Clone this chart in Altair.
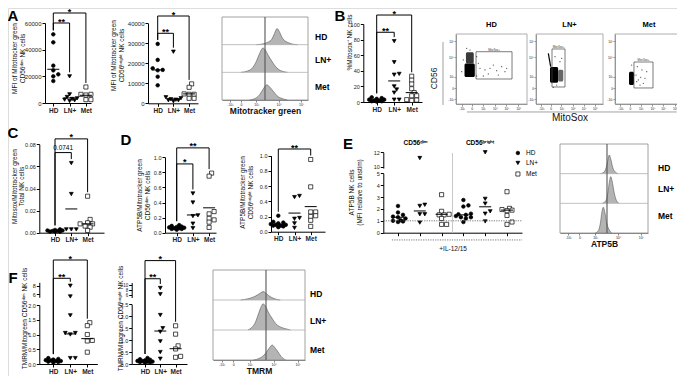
import altair as alt
import pandas as pd

M = 8
W, H = 669, 368
FONT = "Liberation Sans"
CATS = ["HD", "LN+", "Met"]

# ---------------- data ----------------
# A: MFI of Mitotracker green (CD56dim / CD56bright)
A1_HD = [51500, 45500, 28000, 24500, 21500, 20000, 16500]
A1_LN = [20000, 6500, 4500, 3500, 3000, 2500, 2000, 1500]
A1_MET = [12000, 6500, 6500, 6000, 2500, 2500]
A1_LINE = [25300, 3800, 5800]
A2_HD = [29700, 21700, 17500, 16700, 16500, 13300, 9000]
A2_LN = [25800, 3000, 2500, 2000, 1800, 1500, 1500, 1000]
A2_MET = [9700, 8000, 4700, 4500, 4500, 2500, 2500]
A2_LINE = [16700, 2200, 4700]
# B: %Mitosox+ NK cells
B_HD = [6, 5, 4, 3, 3, 2, 2, 1, 1, 0.5]
B_LN = [78, 51, 36, 35, 20, 16, 12, 3, 3]
B_MET = [33, 28, 23, 17, 12, 8, 8, 3, 2.5, 2]
B_LINE = [2.5, 27, 12]
# C: Mitosox / Mitotracker green
C_HD = [0.003, 0.0025, 0.002, 0.002, 0.0015, 0.0015, 0.001, 0.001, 0.001]
C_LN = [0.063, 0.035, 0.003, 0.003, 0.003]
C_MET = [0.033, 0.012, 0.009, 0.008, 0.008, 0.006, 0.005, 0.002]
C_LINE = [0.0015, 0.0215, 0.008]
# D: ATP5B / Mitotracker green
D1_HD = [0.1, 0.09, 0.08, 0.075, 0.07, 0.065, 0.06, 0.06, 0.05, 0.05, 0.04]
D1_LN = [0.52, 0.40, 0.23, 0.22, 0.12, 0.06]
D1_MET = [0.79, 0.75, 0.28, 0.25, 0.19, 0.17, 0.14, 0.07]
D1_LINE = [0.066, 0.235, 0.33]
D2_HD = [0.21, 0.13, 0.12, 0.11, 0.10, 0.09, 0.09, 0.08, 0.08, 0.07, 0.06]
D2_LN = [0.47, 0.455, 0.18, 0.17, 0.11, 0.05]
D2_MET = [0.95, 0.59, 0.26, 0.26, 0.21, 0.20, 0.15, 0.07]
D2_LINE = [0.097, 0.245, 0.33]
# E: ATP5B NK cells (MFI relative to unstim), +IL-12/15
E_DIM_HD = [2.25, 1.7, 1.5, 1.35, 1.3, 1.2, 1.05, 1.0, 0.95, 0.9]
E_DIM_LN = [11.2, 2.35, 2.25, 1.55, 1.55, 0.85]
E_DIM_MET = [3.2, 1.8, 1.55, 1.5, 1.5, 1.2, 0.7, 0.7]
E_BR_HD = [2.75, 2.3, 2.2, 1.6, 1.55, 1.5, 1.4, 1.3, 1.3, 1.2, 0.9]
E_BR_LN = [12.0, 2.85, 2.45, 1.8, 1.6, 0.95]
E_BR_MET = [3.45, 2.05, 1.95, 1.9, 1.85, 1.45, 0.9, 0.7]
E_LINE = [1.3, 1.83, 1.55, 1.5, 2.18, 1.9]
# F: TMRM / Mitogreen
F1_HD = [0.2, 0.17, 0.15, 0.13, 0.12, 0.1, 0.1, 0.08, 0.07, 0.05]
F1_LN = [8.0, 5.5, 1.65, 1.05, 1.05, 1.0, 0.2, 0.2]
F1_MET = [1.4, 1.3, 1.0, 0.8, 0.78, 0.4]
F1_LINE = [0.11, 1.02, 0.86]
F2_HD = [0.25, 0.2, 0.18, 0.15, 0.13, 0.12, 0.1, 0.1, 0.08, 0.07, 0.05]
F2_LN = [8.8, 6.3, 2.05, 1.5, 1.35, 0.95, 0.5, 0.22]
F2_MET = [1.6, 1.25, 0.76, 0.63, 0.32, 0.28]
F2_LINE = [0.12, 1.38, 0.64]

# significance brackets: (group a, group b, bracket height, label)
A1_BR = [(0, 1, 60000, "**"), (0, 2, 67500, "*")]
A2_BR = [(0, 1, 35000, "**"), (0, 2, 43650, "*")]
B_BR = [(0, 1, 89.4, "**"), (0, 2, 111.5, "*")]
C_BR = [(0, 1, 0.0725, "0.0741"), (0, 2, 0.0849, "*")]
D1_BR = [(0, 1, 0.912, "*"), (0, 2, 1.125, "**")]
D2_BR = [(0, 2, 1.088, "**")]
F1_BR = [(0, 1, 2.905, "**"), (0, 2, 3.525, "*")]
F2_BR = [(0, 1, 3.57, "**"), (0, 2, 4.33, "*")]

# histogram curves (position on a 0-5 log-like axis, relative height)
HA_HD = ([2.0, 2.4, 2.7, 2.9, 3.05, 3.2, 3.35, 3.5, 3.7, 3.9, 4.1, 4.4],
         [0, 0.03, 0.1, 0.2, 0.4, 0.58, 0.45, 0.25, 0.12, 0.06, 0.02, 0])
HA_LN = ([1.1, 1.5, 1.8, 2.0, 2.2, 2.38, 2.5, 2.7, 2.9, 3.1, 3.3, 3.5, 3.8],
         [0, 0.05, 0.18, 0.4, 0.7, 0.88, 0.82, 0.6, 0.4, 0.22, 0.1, 0.04, 0])
HA_MET = ([1.6, 2.0, 2.2, 2.4, 2.6, 2.8, 3.0, 3.2, 3.5, 3.8],
          [0, 0.08, 0.2, 0.4, 0.55, 0.45, 0.3, 0.15, 0.05, 0])
HA_MARK = 2.5
HE_HD = ([2.3, 2.5, 2.62, 2.72, 2.8, 2.88, 3.0, 3.15, 3.3],
         [0, 0.05, 0.2, 0.45, 0.63, 0.5, 0.2, 0.05, 0])
HE_LN = ([2.4, 2.6, 2.72, 2.8, 2.88, 2.96, 3.08, 3.2, 3.35],
         [0, 0.08, 0.35, 0.7, 0.9, 0.75, 0.35, 0.1, 0])
HE_MET = ([2.0, 2.18, 2.3, 2.38, 2.46, 2.54, 2.65, 2.8, 2.95],
          [0, 0.08, 0.35, 0.7, 0.87, 0.72, 0.35, 0.1, 0])
HE_MARK = 2.67
HF_HD = ([1.5, 1.9, 2.2, 2.45, 2.6, 2.72, 2.85, 3.0, 3.2, 3.4, 3.65],
         [0, 0.04, 0.1, 0.18, 0.24, 0.28, 0.24, 0.16, 0.08, 0.03, 0])
HF_LN = ([1.9, 2.1, 2.3, 2.45, 2.6, 2.72, 2.85, 3.0, 3.2, 3.4, 3.6, 3.9, 4.2],
         [0, 0.08, 0.25, 0.5, 0.75, 0.87, 0.8, 0.6, 0.4, 0.22, 0.12, 0.05, 0])
HF_MET = ([2.2, 2.5, 2.75, 2.95, 3.1, 3.21, 3.35, 3.5, 3.7, 3.95],
          [0, 0.05, 0.15, 0.3, 0.43, 0.5, 0.42, 0.3, 0.12, 0])
HF_MARK = 2.88
HIST_TICKS = [0.47, 1.1, 2.0, 3.3, 4.6]
HIST_TICK_LABELS = ["-10³", "0", "10³", "10⁴", "10⁵"]

# flow plots (CD56 vs MitoSox), 0-10 display units
FLOW_GATE = {"HD": (2.82, 7.89, 3.57, 7.47), "LN+": (2.39, 4.33, 2.43, 7.86), "Met": (2.79, 5.59, 2.29, 6.0)}
FLOW_CORE = {
    "HD": [(1.4, 2.5, 5.8, 7.4, "#3a3a3a"), (1.2, 2.65, 3.85, 5.8, "#000000")],
    "LN+": [(2.09, 3.3, 3.04, 5.3, "#000000"), (3.3, 4.07, 3.2, 4.9, "#666666")],
    "Met": [(2.06, 2.79, 2.71, 4.61, "#000000")],
}
FLOW_DOTS = {
    "HD": [(3.38, 5.1), (4.08, 4.86), (4.79, 5.1), (5.73, 4.76), (6.43, 5.33), (7.14, 5.1), (3.85, 4.0),
           (4.55, 4.29), (5.96, 4.14), (3.15, 5.81), (5.26, 5.57), (6.9, 4.62), (2.91, 6.76), (1.03, 6.29),
           (2.91, 4.0), (0.8, 4.62), (1.97, 7.71), (1.5, 7.95)],
    "LN+": [(2.84, 6.76), (3.58, 6.04), (3.09, 2.71), (3.83, 6.53), (2.58, 2.38)],
    "Met": [(3.09, 4.14), (3.43, 3.43), (3.78, 3.81), (4.17, 2.95), (3.68, 2.71), (4.41, 3.67), (3.28, 5.33),
            (4.66, 4.62), (3.19, 3.19), (3.97, 4.86), (2.45, 5.57), (2.79, 4.14)],
}
FLOW_STREAK_LN = (1.84, 7.24, 2.19, 5.33)
FLOW_XTICKS = [0.8, 2.2, 3.8, 5.5, 7.1, 8.8]
FLOW_XLABELS = ["-10³", "0", "10³", "10⁴", "10⁵", "10⁶"]
FLOW_YTICKS = [0.7, 2.3, 3.9, 6.7, 9.0]
FLOW_YLABELS = ["-10³", "0", "10³", "10⁴", "10⁵"]

LETTERS = ["A", "B", "C", "D", "E", "F"]

# ---------------- helpers ----------------
SHAPE = alt.Shape("cat:N", scale=alt.Scale(domain=CATS, range=["circle", "triangle-down", "square"]), legend=None)
FILL = alt.Fill("cat:N", scale=alt.Scale(domain=CATS, range=["black", "black", "white"]), legend=None)
SIZE = alt.Size("cat:O", scale=alt.Scale(domain=CATS, range=[13, 17, 17]), legend=None)


def qs(dom, rng):
    return alt.Scale(domain=[float(d) for d in dom], range=[rng[0] - M, rng[1] - M], nice=False, zero=False)


def lab_expr(vals, labs):
    return "[" + ",".join("'%s'" % s for s in labs) + "][indexof([" + ",".join(repr(float(v)) for v in vals) + "], datum.value)]"


def axis(orient, pos, values, tick=3, labels=True, lsize=5.5, lbold=False, fmt=None, expr=None,
         title=None, tsize=6.5, tbold=False, tpad=2, title_x=None, title_y=None, lpad=1, color="black", width=1):
    off = -(pos - M) if orient == "left" else (pos - M) - H
    kw = dict(orient=orient, offset=off, values=list(values), grid=False, domainColor=color, tickColor=color,
              domainWidth=width, tickWidth=width, tickSize=tick, labels=labels, labelFont=FONT,
              labelFontSize=lsize, labelFontWeight="bold" if lbold else "normal", labelColor="#222",
              labelPadding=lpad, labelOverlap=False, labelFlush=False, titleFont=FONT, titleFontSize=tsize,
              titleFontWeight="bold" if tbold else "normal", titleColor="#111", titlePadding=tpad)
    if fmt:
        kw["format"] = fmt
    if expr:
        kw["labelExpr"] = expr
    if title:
        kw["title"] = title
    if title_x is not None:
        lh = tsize + 1
        nl = len(title) if isinstance(title, list) else 1
        # title_x is the right edge of the (rotated) title block
        kw["titleX"] = title_x - lh * (nl - 1)
        kw["titleBaseline"] = "bottom"
        kw["titleAngle"] = 270
        kw["titleLineHeight"] = lh
    if title_y is not None:
        kw["titleY"] = title_y - M
    return alt.Axis(**kw)


def swarm(pxs, d=3.6, step=2.5, kmax=3):
    order = sorted(range(len(pxs)), key=lambda i: -pxs[i])
    placed, offs = [], [0.0] * len(pxs)
    ks = [0]
    for k in range(1, kmax + 1):
        ks += [k, -k]
    for i in order:
        y = pxs[i]
        best, best_d = 0.0, -1.0
        for k in ks:
            x = k * step
            md = min([((x - px) ** 2 + (y - py) ** 2) ** 0.5 for px, py in placed] or [99.0])
            if md >= d:
                best = x
                break
            if md > best_d:
                best, best_d = x, md
        placed.append((best, y))
        offs[i] = best
    return offs


def dot_panel(groups, cats, lines, g, brackets, ytitle, title_x, title_y, yticks, fmt,
              upper=None, xlabels=True, xtitle=None, xtpad=2, lsize=5.5):
    xl, x0, sp, xr = g["xl"], g["x0"], g["sp"], g["xr"]
    yb, yt, (d0, d1) = g["yb"], g["yt"], g["ydom"]
    ppu = (yb - yt) / (d1 - d0)
    xs = qs([(xl - x0) / sp, (xr - x0) / sp], [xl, xr])
    ylo = qs([d0, d1], [yb, yt])

    def is_hi(v):
        return upper is not None and v > d1

    def ypx(v):
        if is_hi(v):
            u0, u1 = upper["dom"]
            return upper["b"] - (v - u0) * (upper["b"] - upper["t"]) / (u1 - u0)
        return yb - (v - d0) * ppu

    def lo_units(px):
        return d0 + (yb - px) / ppu

    rows = []
    for gi, vals in enumerate(groups):
        offs = swarm([ypx(v) for v in vals])
        for v, o in zip(vals, offs):
            rows.append(dict(x=gi + o / sp, v=v, cat=cats[gi], hi=is_hi(v)))
    df = pd.DataFrame(rows)
    n = len(groups)
    xexpr = "[" + ",".join("'%s'" % c for c in cats) + "][datum.value]"
    xax = axis("bottom", yb, list(range(n)), labels=xlabels, lsize=6.5, lbold=True,
               expr=xexpr if xlabels else None, title=xtitle, tpad=xtpad)
    yax = axis("left", xl, yticks, fmt=fmt, title=ytitle, title_x=title_x, title_y=title_y, lsize=lsize)
    out = []
    pt = dict(filled=True, stroke="black", strokeWidth=0.7, opacity=1)
    out.append(alt.Chart(df[~df.hi]).mark_point(**pt).encode(
        x=alt.X("x:Q", scale=xs, axis=xax, title=None),
        y=alt.Y("v:Q", scale=ylo, axis=yax, title=None),
        shape=SHAPE, fill=FILL, size=SIZE))
    if upper is not None:
        yhi = qs(upper["dom"], [upper["b"], upper["t"]])
        uax = axis("left", xl, upper["ticks"], fmt="d", lsize=upper.get("lsize", lsize))
        out.append(alt.Chart(df[df.hi]).mark_point(**pt).encode(
            x=alt.X("x:Q", scale=xs, axis=None, title=None),
            y=alt.Y("v:Q", scale=yhi, axis=uax, title=None),
            shape=SHAPE, fill=FILL, size=SIZE))
    hw = 6.0 / sp
    ldf = pd.DataFrame([dict(x=i - hw, x2=i + hw, v=m) for i, m in enumerate(lines)])
    out.append(alt.Chart(ldf).mark_rule(color="black", strokeWidth=1).encode(
        x=alt.X("x:Q", scale=xs, axis=None, title=None), x2="x2:Q",
        y=alt.Y("v:Q", scale=ylo, axis=None, title=None)))
    if brackets:
        segs = []
        for a, b, top, lab in brackets:
            la = lo_units(min(ypx(v) for v in groups[a]) - 4)
            lb = lo_units(min(ypx(v) for v in groups[b]) - 4)
            segs += [dict(x=a, x2=b, y=top, y2=top), dict(x=a, x2=a, y=top, y2=la), dict(x=b, x2=b, y=top, y2=lb)]
        out.append(alt.Chart(pd.DataFrame(segs)).mark_rule(color="black", strokeWidth=1).encode(
            x=alt.X("x:Q", scale=xs, axis=None, title=None), x2="x2:Q",
            y=alt.Y("y:Q", scale=ylo, axis=None, title=None), y2="y2:Q"))
        for a, b, top, lab in brackets:
            star = lab.startswith("*")
            out.append(alt.Chart(pd.DataFrame([dict(x=(a + b) / 2, y=top, t=lab)])).mark_text(
                font=FONT, fontSize=9 if star else 6.5, fontWeight="bold" if star else "normal",
                baseline="alphabetic", dy=1.5 if star else -3, color="black").encode(
                x=alt.X("x:Q", scale=xs, axis=None, title=None),
                y=alt.Y("y:Q", scale=ylo, axis=None, title=None), text="t:N"))
    return out, xs, ylo


def hist_panel(curves, mark, xl, xr, yt, yb, title, fracs, lab_dx):
    xs = qs([0, 5], [xl, xr])
    ys = qs([0, 3], [yb, yt])
    pxu = (xr - xl) / 5.0
    rows = []
    for ri, (name, (us, hs)) in enumerate(zip(CATS, curves)):
        base = 2 - ri
        for u, h in zip(us, hs):
            rows.append(dict(u=u, top=base + h, base=base, row=name))
    df = pd.DataFrame(rows)
    X = lambda ax=None: alt.X("x:Q", scale=xs, axis=ax, title=None)
    out = []
    out.append(alt.Chart(df).mark_area(color="#b4b4b4", opacity=1, interpolate="monotone",
                                       line=alt.OverlayMarkDef(color="#555555", strokeWidth=0.6)).encode(
        x=alt.X("u:Q", scale=xs, axis=None, title=None),
        y=alt.Y("top:Q", scale=ys, axis=None, title=None, stack=False), y2="base:Q", detail="row:N"))
    fax = axis("bottom", yb, HIST_TICKS, tick=2, lsize=3.5, lpad=0.5,
               expr=lab_expr(HIST_TICKS, HIST_TICK_LABELS), title=title, tsize=8.5, tbold=True, tpad=0.5,
               color="#666666", width=0.8)
    out.append(alt.Chart(pd.DataFrame([dict(x=0, x2=5, y=0, y2=3)])).mark_rect(
        fill="white", fillOpacity=0, stroke="#8a8a8a", strokeWidth=0.8).encode(
        x=X(fax), x2="x2:Q", y=alt.Y("y:Q", scale=ys, axis=None, title=None), y2="y2:Q"))
    sep = pd.DataFrame([dict(x=0, x2=5, y=1), dict(x=0, x2=5, y=2)])
    out.append(alt.Chart(sep).mark_rule(color="#b0b0b0", strokeWidth=0.8).encode(
        x=X(), x2="x2:Q", y=alt.Y("y:Q", scale=ys, axis=None, title=None)))
    out.append(alt.Chart(pd.DataFrame([dict(x=mark, y=0, y2=3)])).mark_rule(color="#555555", strokeWidth=1.1).encode(
        x=X(), y=alt.Y("y:Q", scale=ys, axis=None, title=None), y2="y2:Q"))
    labs = pd.DataFrame([dict(x=5 + lab_dx / pxu, y=2 - i + f, t=c) for i, (c, f) in enumerate(zip(CATS, fracs))])
    out.append(alt.Chart(labs).mark_text(font=FONT, fontSize=8.5, fontWeight="bold", align="left",
                                         baseline="middle", color="black").encode(
        x=X(), y=alt.Y("y:Q", scale=ys, axis=None, title=None), text="t:N"))
    return out


def flow_panel(name, xl, xr, yt, yb, ytitle=None, xtitle=None, extra_rules=None):
    xs = qs([0, 10], [xl, xr])
    ys = qs([0, 10], [yb, yt])
    X = lambda ax=None: alt.X("x:Q", scale=xs, axis=ax, title=None)
    Y = lambda ax=None: alt.Y("y:Q", scale=ys, axis=ax, title=None)
    out = []
    xax = axis("bottom", yb, FLOW_XTICKS, tick=2, lsize=3.2, lpad=0.5, expr=lab_expr(FLOW_XTICKS, FLOW_XLABELS),
               color="#666666", width=0.7, title=xtitle, tsize=10, tpad=3)
    yax = axis("left", xl, FLOW_YTICKS, tick=2, lsize=3.2, lpad=0.5, expr=lab_expr(FLOW_YTICKS, FLOW_YLABELS),
               color="#666666", width=0.7, title=ytitle, tsize=8.5,
               title_x=(438 - xl) if ytitle else None, title_y=78 if ytitle else None)
    out.append(alt.Chart(pd.DataFrame([dict(x=0, x2=10, y=0, y2=10)])).mark_rect(
        fill="white", fillOpacity=0, stroke="#999999", strokeWidth=0.8).encode(
        x=X(xax), x2="x2:Q", y=Y(yax), y2="y2:Q"))
    cores = pd.DataFrame([dict(x=a, x2=b, y=c, y2=d, col=k) for a, b, c, d, k in FLOW_CORE[name]])
    out.append(alt.Chart(cores).mark_rect(cornerRadius=1.5).encode(
        x=X(), x2="x2:Q", y=Y(), y2="y2:Q", color=alt.Color("col:N", scale=None)))
    dots = pd.DataFrame([dict(x=a, y=b) for a, b in FLOW_DOTS[name]])
    out.append(alt.Chart(dots).mark_circle(size=1.6, color="#222222", opacity=0.8).encode(x=X(), y=Y()))
    g = FLOW_GATE[name]
    out.append(alt.Chart(pd.DataFrame([dict(x=g[0], x2=g[1], y=g[2], y2=g[3])])).mark_rect(
        fill="white", fillOpacity=0, stroke="#444444", strokeWidth=0.7).encode(
        x=X(), x2="x2:Q", y=Y(), y2="y2:Q"))
    out.append(alt.Chart(pd.DataFrame([dict(x=(g[0] + g[1]) / 2, y=g[3], t="MitoSox+")])).mark_text(
        font=FONT, fontSize=2.8, baseline="bottom", dy=-0.5, color="#333").encode(x=X(), y=Y(), text="t:N"))
    out.append(alt.Chart(pd.DataFrame([dict(x=5, y=11.3, t=name)])).mark_text(
        font=FONT, fontSize=7.5, fontWeight="bold", baseline="middle", color="black").encode(
        x=X(), y=Y(), text="t:N"))
    if name == "LN+":
        s = FLOW_STREAK_LN
        out.append(alt.Chart(pd.DataFrame([dict(x=s[0], y=s[1], x2=s[2], y2=s[3])])).mark_rule(
            color="black", strokeWidth=1.2).encode(x=X(), y=Y(), x2="x2:Q", y2="y2:Q"))
    if extra_rules:
        out.append(alt.Chart(pd.DataFrame(extra_rules)).mark_rule(color="#888888", strokeWidth=0.8).encode(
            x=X(), y=Y(), x2="x2:Q", y2="y2:Q"))
    return out


layers = []

# ---- A ----
l, _, _ = dot_panel([A1_HD, A1_LN, A1_MET], CATS, A1_LINE,
                    dict(xl=45, x0=53.3, sp=16.3, xr=91, yb=103, yt=23, ydom=(0, 60000)),
                    A1_BR, ["MFI of Mitotracker green", "CD56ᵈⁱᵐ NK cells"], -20, 58,
                    [0, 20000, 40000, 60000], "d", lsize=6)
layers += l
l, _, _ = dot_panel([A2_HD, A2_LN, A2_MET], CATS, A2_LINE,
                    dict(xl=148, x0=157.7, sp=15.7, xr=198, yb=103.3, yt=23.3, ydom=(0, 40000)),
                    A2_BR, ["MFI of Mitotracker green", "CD56ᵇʳⁱᵍʰᵗ NK cells"], -24, 55,
                    [0, 10000, 20000, 30000, 40000], "d", lsize=6)
layers += l
layers += hist_panel([HA_HD, HA_LN, HA_MET], HA_MARK, 222, 308, 17, 100, "Mitotracker green",
                     [0.27, 0.44, 0.46], 7)

# ---- B ----
l, _, _ = dot_panel([B_HD, B_LN, B_MET], CATS, B_LINE,
                    dict(xl=363.3, x0=376.7, sp=17.5, xr=422, yb=102, yt=24, ydom=(0, 100)),
                    B_BR, "%Mitosox⁺ NK cells", -11, 42, [0, 20, 40, 60, 80, 100], "d")
layers += l
layers += flow_panel("HD", 456, 527, 34, 104, ytitle="CD56",
                     extra_rules=[dict(x=-1.83, y=8.86, x2=-1.83, y2=-0.14)])
layers += flow_panel("LN+", 536, 603, 34, 104, xtitle="MitoSox",
                     extra_rules=[dict(x=-10.3, y=-1.14, x2=21.0, y2=-1.14)])
layers += flow_panel("Met", 615, 683, 34, 104)

# ---- C ----
l, _, _ = dot_panel([C_HD, C_LN, C_MET], CATS, C_LINE,
                    dict(xl=39.3, x0=55, sp=16.3, xr=104, yb=232.7, yt=144.3, ydom=(0, 0.08)),
                    C_BR, ["Mitosox/Mitotracker green", "Total NK cells"], -14.5, 186,
                    [0, 0.02, 0.04, 0.06, 0.08], ".2f")
layers += l

# ---- D ----
l, _, _ = dot_panel([D1_HD, D1_LN, D1_MET], CATS, D1_LINE,
                    dict(xl=165, x0=176.7, sp=16.2, xr=216, yb=232.7, yt=157.3, ydom=(0, 1.0)),
                    D1_BR, ["ATP5B/Mitotracker green", "CD56ᵈⁱᵐ NK cells"], -15, 195,
                    [0, 0.2, 0.4, 0.6, 0.8, 1.0], ".1f")
layers += l
l, _, _ = dot_panel([D2_HD, D2_LN, D2_MET], CATS, D2_LINE,
                    dict(xl=271, x0=278.3, sp=16.2, xr=325, yb=231.7, yt=155.7, ydom=(0, 1.0)),
                    D2_BR, ["ATP5B/Mitotracker green", "CD56ᵇʳⁱᵍʰᵗ NK cells"], -18, 192,
                    [0, 0.2, 0.4, 0.6, 0.8, 1.0], ".1f")
layers += l

# ---- E ----
E_CATS = CATS + CATS
l, exs, eys = dot_panel([E_DIM_HD, E_DIM_LN, E_DIM_MET, E_BR_HD, E_BR_LN, E_BR_MET], E_CATS, E_LINE,
                        dict(xl=383.3, x0=398, sp=21.8, xr=522, yb=232.7, yt=173.3, ydom=(0, 5)),
                        [], ["ATP5B NK cells", "(MFI relative to unstim)"], -21, 192,
                        [0, 1, 2, 3, 4, 5], "d",
                        upper=dict(b=168.1, t=152.3, dom=(9.8, 12.0), ticks=[10, 12]),
                        xlabels=False, xtitle="+IL-12/15", xtpad=9)
layers += l
EX = lambda: alt.X("x:Q", scale=exs, axis=None, title=None)
EY = lambda: alt.Y("y:Q", scale=eys, axis=None, title=None)
layers.append(alt.Chart(pd.DataFrame([dict(x=2.5, y=0, y2=6.7)])).mark_rule(color="#c8c8c8", strokeWidth=1).encode(
    x=EX(), y=EY(), y2="y2:Q"))
layers.append(alt.Chart(pd.DataFrame([dict(x=-0.67, x2=5.69, y=1), dict(x=-0.28, x2=5.69, y=-0.61)])).mark_rule(
    color="#555555", strokeWidth=0.8, strokeDash=[1.2, 1.2]).encode(x=EX(), x2="x2:Q", y=EY()))
layers.append(alt.Chart(pd.DataFrame([dict(x=0.8, y=7.55, t="CD56ᵈⁱᵐ"), dict(x=3.76, y=7.55, t="CD56ᵇʳⁱᵍʰᵗ")])).mark_text(
    font=FONT, fontSize=6.5, fontWeight="bold", baseline="middle", color="black").encode(x=EX(), y=EY(), text="t:N"))
leg = pd.DataFrame([dict(x=5.5, y=yv, cat=c) for c, yv in zip(CATS, [6.71, 5.87, 4.94])])
layers.append(alt.Chart(leg).mark_point(filled=True, stroke="black", strokeWidth=0.7, opacity=1).encode(
    x=EX(), y=EY(), shape=SHAPE, fill=FILL, size=SIZE))
layers.append(alt.Chart(leg.assign(x=5.87)).mark_text(font=FONT, fontSize=6.5, align="left", baseline="middle",
                                                     color="black").encode(x=EX(), y=EY(), text="cat:N"))
layers += hist_panel([HE_HD, HE_LN, HE_MET], HE_MARK, 560, 648, 144, 233, "ATP5B", [0.2, 0.47, 0.58], 10)

# ---- F ----
l, _, _ = dot_panel([F1_HD, F1_LN, F1_MET], CATS, F1_LINE,
                    dict(xl=39.3, x0=53.3, sp=17, xr=97.3, yb=364, yt=305, ydom=(0, 2.0)),
                    F1_BR, "TMRM/Mitogreen CD56ᵈⁱᵐ NK cells", -12, 318,
                    [0, 0.5, 1.0, 1.5, 2.0], ".1f",
                    upper=dict(b=297.3, t=282.3, dom=(5.3, 8.8), ticks=[6, 8]))
layers += l
l, _, _ = dot_panel([F2_HD, F2_LN, F2_MET], CATS, F2_LINE,
                    dict(xl=131.7, x0=145, sp=15.3, xr=187, yb=364, yt=304.3, ydom=(0, 2.5)),
                    F2_BR, "TMRM/Mitogreen CD56ᵇʳⁱᵍʰᵗ NK cells", -8, 318,
                    [0, 0.5, 1.0, 1.5, 2.0, 2.5], ".1f",
                    upper=dict(b=297.5, t=282.5, dom=(5.0, 11.0), ticks=[6, 8, 10], lsize=4.5))
layers += l
layers += hist_panel([HF_HD, HF_LN, HF_MET], HF_MARK, 213, 305, 270, 360, "TMRM", [0.2, 0.3, 0.33], 5)

# ---- panel letters (x, y of the letter's top-centre) ----
LETTER_POS = [(13, 9), (340, 9), (13, 126), (126, 133), (348, 137), (13, 271)]
for t, (px, py) in zip(LETTERS, LETTER_POS):
    layers.append(alt.Chart(pd.DataFrame([dict(t=t)])).mark_text(
        font=FONT, fontSize=15, fontWeight="bold", align="center", baseline="top", color="black").encode(
        x=alt.value(px - M), y=alt.value(py - M), text="t:N"))

chart = alt.layer(*layers).resolve_scale(x="independent", y="independent").properties(
    width=W, height=H, autosize=alt.AutoSizeParams(type="none"), padding=0
).configure_view(strokeWidth=0).configure(font=FONT)

chart.save("out.html", embed_options={"renderer": "svg", "actions": False})
